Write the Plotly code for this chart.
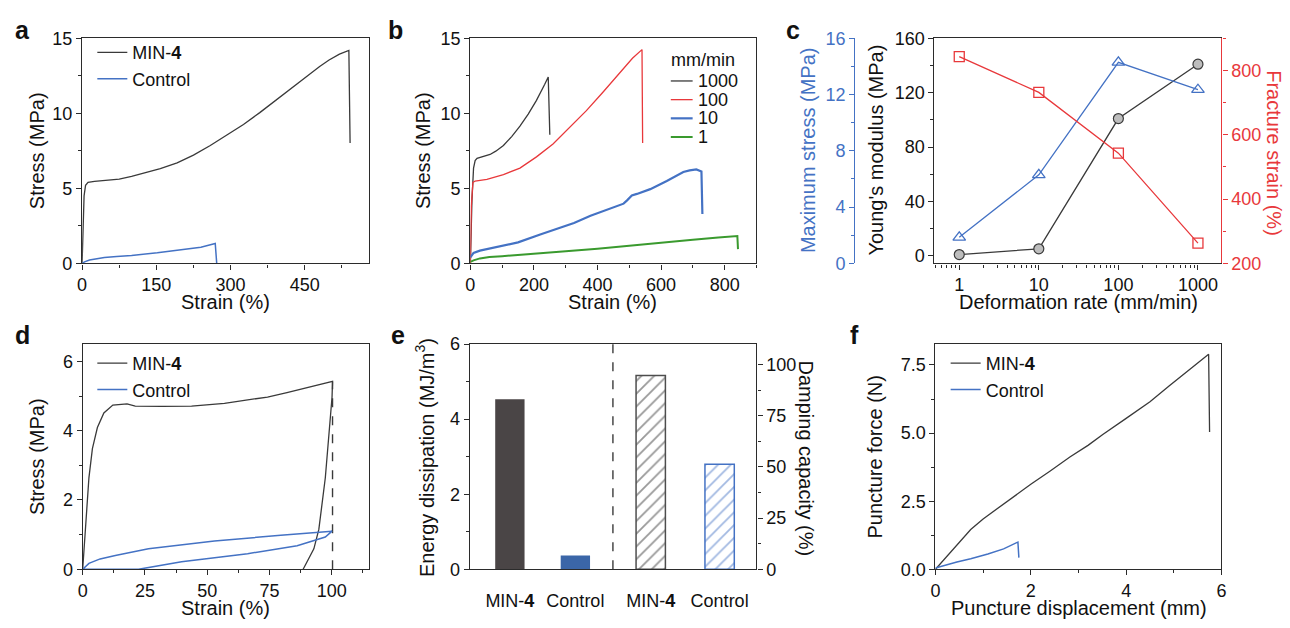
import plotly.graph_objects as go

# ---------------- data ----------------
# (a) tensile curves
a_min4_strain = [0, 1, 2, 4, 7, 12, 25, 50, 75, 100, 125, 158, 192, 225, 259, 292, 326, 359, 392, 425,
                 459, 480, 499, 520, 539, 541.5]
a_min4_stress = [0, 1.2, 2.6, 4.5, 5.2, 5.4, 5.47, 5.52, 5.62, 5.8, 6.03, 6.32, 6.7, 7.22, 7.86, 8.53, 9.26, 10.05,
                 10.87, 11.73, 12.59, 13.12, 13.56, 13.95, 14.2, 8.03]
a_ctrl_strain = [0, 5, 15, 30, 45, 70, 100, 152, 212, 240, 269, 272]
a_ctrl_stress = [0, 0.1, 0.22, 0.3, 0.39, 0.46, 0.53, 0.71, 0.93, 1.08, 1.33, 0.0]

# (b) tensile curves at different deformation rates (mm/min)
rate_labels = ["1000", "100", "10", "1"]
b_1000_strain = [0, 3, 5, 10, 15, 21, 40, 62, 80, 104, 130, 156, 182, 208, 234, 245, 250]
b_1000_stress = [0, 2.5, 4.2, 6.35, 6.85, 7.0, 7.12, 7.26, 7.48, 7.86, 8.45, 9.15, 9.95, 10.87, 11.94, 12.42, 8.57]
b_100_strain = [0, 3, 8, 15, 52, 104, 156, 208, 260, 312, 365, 417, 469, 510, 540, 542]
b_100_stress = [0, 3.8, 5.4, 5.49, 5.6, 5.92, 6.35, 7.1, 7.96, 9.04, 10.18, 11.41, 12.7, 13.67, 14.25, 8.03]
b_10_strain = [0, 10, 30, 60, 100, 150, 222, 275, 326, 378, 430, 482, 493, 508, 524, 566, 618, 670, 690, 711, 727, 730]
b_10_stress = [0.4, 0.7, 0.85, 1.0, 1.15, 1.4, 1.94, 2.32, 2.69, 3.17, 3.55, 3.98, 4.2, 4.52, 4.63, 4.95, 5.49, 6.09, 6.2, 6.26, 6.13, 3.29]
b_1_strain = [0, 10, 30, 60, 100, 222, 300, 400, 534, 600, 700, 780, 826, 840, 842]
b_1_stress = [0.1, 0.2, 0.33, 0.42, 0.48, 0.65, 0.8, 0.98, 1.27, 1.4, 1.58, 1.72, 1.83, 1.82, 0.95]

# (c) properties vs deformation rate
rates = [1, 10, 100, 1000]
max_stress = [1.85, 6.3, 14.3, 12.35]
youngs_modulus = [1.0, 5.2, 101, 141]
fracture_strain = [843, 732, 543, 263]

# (d) loading-unloading cycles to 100 % strain
d_min4_strain = [0, 1.2, 2.5, 3.9, 5.9, 8.5, 12.1, 17.8, 21.1, 31.7, 43.7, 56.9, 66.2, 74.2, 82, 88, 94, 100.3,
                 100.1, 98.8, 97.4, 94.8, 92.8, 88.5]
d_min4_stress = [0, 1.43, 2.64, 3.48, 4.09, 4.51, 4.74, 4.77, 4.71, 4.70, 4.71, 4.79, 4.88, 4.97, 5.1, 5.2, 5.3, 5.42,
                 4.97, 3.8, 2.64, 1.15, 0.59, 0.0]
d_ctrl_strain = [0, 2.5, 7, 13.1, 26.4, 52.9, 79.5, 100.1, 97.4, 86.1, 66.2, 39.7, 22.4, 0]
d_ctrl_stress = [0, 0.17, 0.3, 0.4, 0.59, 0.82, 0.98, 1.1, 0.93, 0.68, 0.45, 0.22, 0.0, 0.0]
d_max_strain = 100.3
d_max_stress = 5.42

# (e) energy dissipation and damping capacity
e_labels = ["MIN-<b>4</b>", "Control", "MIN-<b>4</b>", "Control"]
energy_dissipation = [4.53, 0.37]
damping_capacity = [94.6, 51.3]

# (f) puncture tests
f_min4_disp = [0, 0.1, 0.4, 0.74, 1.0, 1.43, 2.0, 2.4, 2.82, 3.2, 3.51, 4.0, 4.5, 4.9, 5.3, 5.73, 5.75]
f_min4_force = [0, 0.2, 0.8, 1.46, 1.85, 2.4, 3.12, 3.6, 4.12, 4.55, 4.95, 5.54, 6.15, 6.73, 7.3, 7.89, 5.04]
f_ctrl_disp = [0, 0.19, 0.45, 0.74, 1.1, 1.43, 1.71, 1.73, 1.75]
f_ctrl_force = [0.05, 0.15, 0.27, 0.39, 0.56, 0.75, 0.97, 1.0, 0.43]

# ---------------- styling ----------------
W, H = 1290, 628
FONT = "Liberation Sans, Arial, sans-serif"
DARK = "#3a3a3a"
AXC = "#2b2b2b"
BLUE = "#4472c4"
RED = "#e8383b"
GREEN = "#3a9a2e"
BAR_DARK = "#4a4546"
BAR_BLUE = "#3b66a8"
TICK = 18
TITLE = 20


def px(v):
    return v / W


def py(v):
    return 1 - v / H


def ydom(top, bottom):
    return [py(bottom), py(top)]


TOP_ROW = ydom(29.3, 261.7)
BOT_ROW = ydom(345, 577.7)


def axis(domain=None, rng=None, dtick=None, minor_step=None, color=AXC, mirror=True, **kw):
    d = dict(range=rng, showline=True, linecolor=color, linewidth=1.3, mirror=mirror,
             ticks="outside", ticklen=5, tickwidth=1.2, tickcolor=color,
             tickfont=dict(size=TICK, color="#111" if color == AXC else color),
             showgrid=False, zeroline=False)
    if domain is not None:
        d["domain"] = domain
    if dtick is not None:
        d["dtick"] = dtick
        d["tick0"] = 0
    if minor_step is not None:
        d["minor"] = dict(dtick=minor_step, tick0=0, ticks="outside", ticklen=3, tickwidth=1.1, tickcolor=color)
    d.update(kw)
    return d


fig = go.Figure()

# (a)
fig.add_trace(go.Scatter(x=a_min4_strain, y=a_min4_stress, mode="lines", name="MIN-<b>4</b>",
                         line=dict(color=DARK, width=1.3), xaxis="x", yaxis="y", legend="legend"))
fig.add_trace(go.Scatter(x=a_ctrl_strain, y=a_ctrl_stress, mode="lines", name="Control",
                         line=dict(color=BLUE, width=1.5), xaxis="x", yaxis="y", legend="legend"))

# (b)
b_series = [
    (b_1000_strain, b_1000_stress, DARK, 1.3),
    (b_100_strain, b_100_stress, RED, 1.3),
    (b_10_strain, b_10_stress, BLUE, 2.2),
    (b_1_strain, b_1_stress, GREEN, 2.0),
]
for (xs, ys, col, wd), nm in zip(b_series, rate_labels):
    fig.add_trace(go.Scatter(x=xs, y=ys, mode="lines", name=nm, showlegend=False,
                             line=dict(color=col, width=wd), xaxis="x2", yaxis="y2"))

# (c)
fig.add_trace(go.Scatter(x=rates, y=max_stress, mode="lines+markers", showlegend=False,
                         line=dict(color=BLUE, width=1.3),
                         marker=dict(symbol="triangle-up-open", size=11, color=BLUE, line=dict(width=1.3)),
                         xaxis="x3", yaxis="y4"))
fig.add_trace(go.Scatter(x=rates, y=fracture_strain, mode="lines+markers", showlegend=False,
                         line=dict(color=RED, width=1.3),
                         marker=dict(symbol="square-open", size=10, color=RED, line=dict(width=1.3)),
                         xaxis="x3", yaxis="y5"))
fig.add_trace(go.Scatter(x=rates, y=youngs_modulus, mode="lines+markers", showlegend=False,
                         line=dict(color=DARK, width=1.3),
                         marker=dict(symbol="circle", size=10, color="#bdbdbd", line=dict(color=DARK, width=1.2)),
                         xaxis="x3", yaxis="y3"))

# (d)
fig.add_trace(go.Scatter(x=[d_max_strain, d_max_strain], y=[0, d_max_stress], mode="lines", showlegend=False,
                         line=dict(color=DARK, width=1.4, dash="dash"), xaxis="x4", yaxis="y6"))
fig.add_trace(go.Scatter(x=d_min4_strain, y=d_min4_stress, mode="lines", name="MIN-<b>4</b>",
                         line=dict(color=DARK, width=1.3), xaxis="x4", yaxis="y6", legend="legend3"))
fig.add_trace(go.Scatter(x=d_ctrl_strain, y=d_ctrl_stress, mode="lines", name="Control",
                         line=dict(color=BLUE, width=1.5), xaxis="x4", yaxis="y6", legend="legend3"))

# (e)
e_pos = [0.603, 1.585, 2.715, 3.748]
fig.add_trace(go.Bar(x=e_pos[:2], y=energy_dissipation, width=0.44, showlegend=False,
                     marker=dict(color=[BAR_DARK, BAR_BLUE], line=dict(width=0)),
                     xaxis="x5", yaxis="y7"))
fig.add_trace(go.Bar(x=e_pos[2:], y=damping_capacity, width=0.44, showlegend=False,
                     marker=dict(color="white",
                                 line=dict(color=["#4d4d4d", BLUE], width=1.5),
                                 pattern=dict(shape="/", size=9, solidity=0.2,
                                              fgcolor=["#333333", BLUE], bgcolor="white",
                                              fillmode="overlay")),
                     xaxis="x5", yaxis="y8"))

# (f)
fig.add_trace(go.Scatter(x=f_min4_disp, y=f_min4_force, mode="lines", name="MIN-<b>4</b>",
                         line=dict(color=DARK, width=1.3), xaxis="x6", yaxis="y9", legend="legend4"))
fig.add_trace(go.Scatter(x=f_ctrl_disp, y=f_ctrl_force, mode="lines", name="Control",
                         line=dict(color=BLUE, width=1.5), xaxis="x6", yaxis="y9", legend="legend4"))

# ---------------- axes ----------------
log_minor = [0.5, 0.6, 0.7, 0.8, 0.9, 2, 3, 4, 5, 6, 7, 8, 9,
             20, 30, 40, 50, 60, 70, 80, 90,
             200, 300, 400, 500, 600, 700, 800, 900]

layout = dict(
    width=W, height=H, margin=dict(l=0, r=0, t=0, b=0),
    paper_bgcolor="white", plot_bgcolor="rgba(0,0,0,0)",
    font=dict(family=FONT, size=TICK, color="#111"),
    barmode="overlay",
    xaxis=axis([px(77.7), px(367)], [0, 580], 150, 75, anchor="y"),
    yaxis=axis(TOP_ROW, [0, 15], 5, 2.5, anchor="x"),
    xaxis2=axis([px(469), px(757.3)], [0, 900], 200, 100, anchor="y2"),
    yaxis2=axis(TOP_ROW, [0, 15], 5, 2.5, anchor="x2"),
    xaxis3=axis([px(936.7), px(1226)], [-0.312, 3.296], anchor="y3", type="log",
                tickvals=[1, 10, 100, 1000], ticktext=["1", "10", "100", "1000"],
                minor=dict(tickvals=log_minor, ticks="outside", ticklen=3, tickwidth=1.1, tickcolor=AXC)),
    yaxis3=axis(TOP_ROW, [-5.5, 160], 40, 20, anchor="x3", mirror=False),
    yaxis4=axis(None, [0, 16], 4, 2, color=BLUE, mirror=False, overlaying="y3",
                anchor="free", position=px(856), side="left"),
    yaxis5=axis(None, [200, 900], 200, 100, color=RED, mirror=False, overlaying="y3",
                anchor="x3", side="right", tickvals=[200, 400, 600, 800]),
    xaxis4=axis([px(78.3), px(367)], [0, 115], 25, 12.5, anchor="y6"),
    yaxis6=axis(BOT_ROW, [0, 6.5], 2, 1, anchor="x4"),
    xaxis5=axis([px(468.3), px(757.3)], [0, 4.3], anchor="y7", ticks="",
                tickvals=e_pos, ticktext=e_labels, ticklabelstandoff=15),
    yaxis7=axis(BOT_ROW, [0, 6], 2, 1, anchor="x5", mirror=False),
    yaxis8=axis(None, [0, 110], 25, 12.5, anchor="x5", overlaying="y7", side="right", mirror=False),
    xaxis6=axis([px(937.7), px(1226)], [0, 6], 2, 1, anchor="y9"),
    yaxis9=axis(BOT_ROW, [0, 8.27], 2.5, 1.25, anchor="x6", tickformat=".1f"),
)

legend_common = dict(bgcolor="rgba(0,0,0,0)", borderwidth=0, font=dict(size=18, color="#111"),
                     xanchor="left", yanchor="top", tracegroupgap=0, itemwidth=30)
layout["legend"] = dict(x=px(88), y=py(25), **legend_common)
layout["legend3"] = dict(x=px(88), y=py(346), **legend_common)
layout["legend4"] = dict(x=px(948), y=py(346), **legend_common)

fig.update_layout(**layout)

# dashed divider in (e)
fig.add_shape(type="line", xref="x5", yref="y7 domain", x0=2.148, x1=2.148, y0=0, y1=1,
              line=dict(color=DARK, width=1.4, dash="dash"))

# ---------------- text ----------------
ann = []


def label(text, x, y, size=TITLE, angle=0, color="#111", bold=False, xanchor="center"):
    ann.append(dict(text=f"<b>{text}</b>" if bold else text, x=px(x), y=py(y), xref="paper", yref="paper",
                    showarrow=False, xanchor=xanchor, yanchor="middle", textangle=angle,
                    font=dict(size=size, color=color, family=FONT)))


# compact legend for the rate series in (b)
label("mm/min", 669, 52, size=18, xanchor="left")
for i, ((xs, ys, col, wd), nm) in enumerate(zip(b_series, rate_labels)):
    yc = 73.3 + 19.3 * i
    fig.add_shape(type="line", xref="paper", yref="paper", x0=px(671), x1=px(693), y0=py(yc), y1=py(yc),
                  line=dict(color=col, width=wd))
    label(nm, 696, yc, size=18, xanchor="left")

for t, x, y in [("a", 18, 21), ("b", 394, 21), ("c", 794, 21), ("d", 18, 336), ("e", 396, 336), ("f", 856, 336)]:
    label(t, x, y, size=25, bold=True)

label("Stress (MPa)", 33, 145, angle=-90)
label("Strain (%)", 222, 302)
label("Stress (MPa)", 422, 145, angle=-90)
label("Strain (%)", 612, 302)
label("Maximum stress (MPa)", 810, 145, angle=-90, color=BLUE)
label("Young's modulus (MPa)", 878, 145, angle=-90)
label("Fracture strain (%)", 1279, 148, angle=90, color=RED)
label("Deformation rate (mm/min)", 1082, 302)
label("Stress (MPa)", 33, 461, angle=-90)
label("Strain (%)", 222, 618)
label("Energy dissipation (MJ/m<sup>3</sup>)", 423, 462, angle=-90)
label("Damping capacity (%)", 807, 463, angle=90)
label("Puncture force (N)", 877, 462, angle=-90)
label("Puncture displacement (mm)", 1082, 618)

fig.update_layout(annotations=ann)
fig.write_html("out.html")
